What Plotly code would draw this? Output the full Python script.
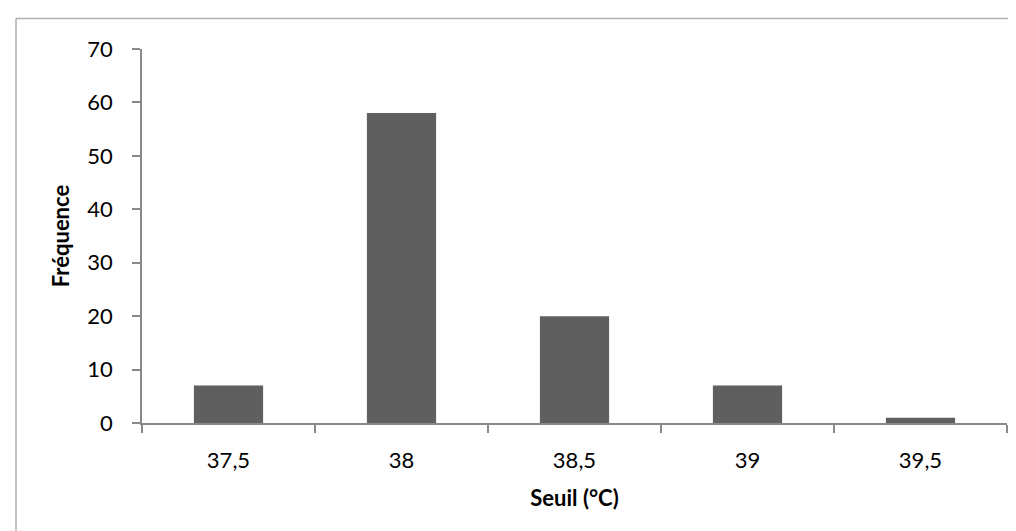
import plotly.graph_objects as go

categories = ["37,5", "38", "38,5", "39", "39,5"]
frequencies = [7, 58, 20, 7, 1]
y_ticks = [0, 10, 20, 30, 40, 50, 60, 70]

W, H = 1016, 531
L, R, T, B = 134, 17, 41, 116
pw, ph = W - L - R, H - T - B

FONT = "Lato"
AX = "#898989"

fig = go.Figure(go.Bar(x=categories, y=frequencies, marker=dict(color="#5f5f5f", line=dict(width=0))))

def px_x(x):
    return (x - L) / pw

def px_y(y):
    return (H - B - y) / ph

fig.update_layout(
    width=W, height=H,
    margin=dict(l=L, r=R, t=T, b=B),
    paper_bgcolor="white", plot_bgcolor="white",
    bargap=0.6,
    showlegend=False,
    font=dict(family=FONT, size=22, color="#000000"),
    shapes=[
        dict(type="line", xref="paper", yref="paper", x0=px_x(8), x1=px_x(1030), y0=px_y(10.5), y1=px_y(10.5),
             line=dict(color="#b0b0b0", width=1.5)),
        dict(type="line", xref="paper", yref="paper", x0=px_x(8), x1=px_x(8), y0=px_y(10.5), y1=px_y(545),
             line=dict(color="#b0b0b0", width=1.5)),
    ],
)

fig.update_xaxes(
    type="category",
    showline=True, linecolor=AX, linewidth=1.5,
    ticks="outside", tickson="boundaries", ticklen=8, tickcolor=AX, tickwidth=1.5,
    showgrid=False, zeroline=False,
    tickfont=dict(family=FONT, size=22),
    ticklabelstandoff=17,
    title=dict(text="<b>Seuil (°C)</b>", font=dict(family=FONT, size=22), standoff=18),
    automargin=False,
)
fig.update_yaxes(
    range=[0, 70], tickvals=y_ticks,
    showline=True, linecolor=AX, linewidth=1.5,
    ticks="outside", ticklen=8, tickcolor=AX, tickwidth=1.5,
    showgrid=False, zeroline=False,
    tickfont=dict(family=FONT, size=22),
    ticklabelstandoff=15,
    title=dict(text="<b>Fréquence</b>", font=dict(family=FONT, size=22), standoff=12),
    automargin=False,
)

fig.write_html("out.html")
